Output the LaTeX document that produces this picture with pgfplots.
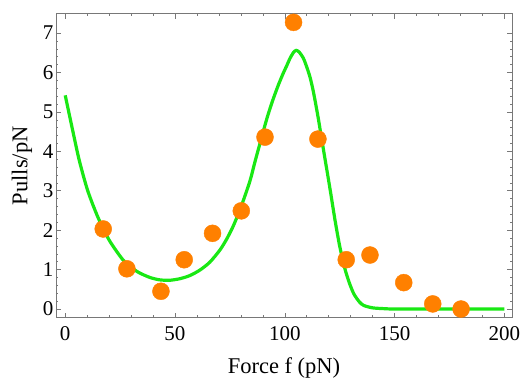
\documentclass[border=0pt]{standalone}
\usepackage{pgfplots}
\pgfplotsset{compat=1.18}
\usepackage{fontspec}
\setmainfont{Liberation Serif}
\definecolor{mmaorange}{RGB}{255,128,0}
\definecolor{mmagreen}{RGB}{25,232,20}
\definecolor{framegray}{RGB}{120,120,120}
\begin{document}
\begin{tikzpicture}
\begin{axis}[
  scale only axis,
  width=456pt, height=304pt,
  xmin=-4.2, xmax=203.5, ymin=-0.22, ymax=7.49,
  xtick={0,50,100,150,200},
  ytick={0,1,2,3,4,5,6,7},
  minor x tick num=4,
  minor y tick num=4,
  tick align=inside,
  major tick length=5pt,
  minor tick length=2.5pt,
  every tick/.style={framegray, line width=0.5pt},
  axis line style={framegray, line width=0.9pt},
  /pgf/number format/assume math mode=true,
  ticklabel style={font=\fontsize{21}{21}\selectfont, text=black},
  xticklabel style={yshift=-5pt},
  yticklabel style={xshift=1pt},
  xlabel={Force f (pN)},
  ylabel={Pulls/pN},
  label style={font=\fontsize{22.5}{22.5}\selectfont},
  xlabel style={at={(axis description cs:0.5,0)}, anchor=base, yshift=-56pt},
  ylabel style={at={(axis description cs:0,0.5)}, anchor=center, xshift=0pt, yshift=34pt},
  clip=false,
]
\addplot[mmagreen, line width=3.2pt, smooth, tension=0.45] coordinates {
  (0,5.42) (3.4,4.53) (6.4,3.77) (10.2,3.01) (14.8,2.34) (20,1.75)
  (26.1,1.26) (30,1.06) (33.7,0.92) (38.6,0.80) (43,0.74) (47.7,0.73)
  (52.3,0.77) (56.8,0.85) (61.4,0.99) (65.9,1.19) (70.5,1.50) (73.5,1.77)
  (76.5,2.10) (80,2.58) (84.1,3.24) (86.5,3.75) (89.5,4.36) (92,4.86)
  (94.5,5.29) (97,5.67) (99.3,5.98) (100.8,6.16) (102.4,6.36) (104,6.51)
  (105.2,6.56) (106.5,6.52) (108.4,6.37) (110,6.14) (111.5,5.88) (113,5.52)
  (115,4.92) (117,4.25) (120.6,3.05) (122.9,2.25) (125,1.60) (127.4,1.02)
  (129.5,0.65) (131.5,0.38) (134,0.18) (136,0.09) (140,0.03) (145,0.01)
  (150,0) (165,0) (180,0) (200,0)
};
\addplot[only marks, mark=*, mark size=8.5pt, mmaorange, mark options={draw=mmaorange, fill=mmaorange}] coordinates {
  (17.3,2.03) (28.1,1.02) (43.6,0.45) (54.2,1.25) (67.1,1.92) (80.2,2.49)
  (91.0,4.36) (104.0,7.27) (115.1,4.31) (128.0,1.25) (138.8,1.37)
  (154.2,0.67) (167.4,0.13) (180.3,0.0)
};
\end{axis}
\pgfresetboundingbox
\path[use as bounding box] (-56pt,-60.3pt) rectangle (468pt,317.7pt);
\end{tikzpicture}
\end{document}
